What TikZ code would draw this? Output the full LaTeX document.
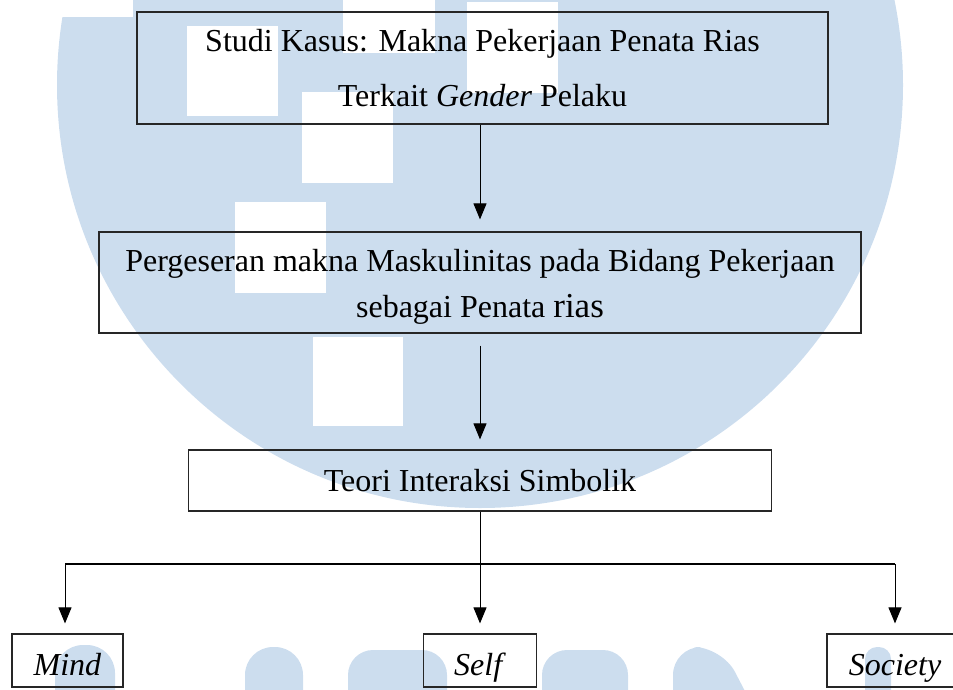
\documentclass[tikz,border=0pt]{standalone}
\usepackage{fontspec}
\setmainfont{Liberation Serif}
\usetikzlibrary{arrows.meta}
\definecolor{wmblue}{RGB}{204,221,238}
\begin{document}
\begin{tikzpicture}[x=1pt,y=1pt,
  box/.style={draw=black!85, line width=1.2pt, inner sep=0pt, align=center, font=\fontsize{32}{40}\selectfont},
  leaf/.style={box, minimum height=53pt, text height=29pt, text depth=0pt},
  conn/.style={line width=1pt, draw=black},
  arr/.style={conn, -{Triangle[width=13pt,length=16pt]}},
  wm/.style={fill=wmblue},
  wmhole/.style={fill=white}]
\useasboundingbox (0,0) rectangle (953,-689);
\clip (0,0) rectangle (953,-689);
% watermark
\fill[wm] (480,-85) circle (423);
\fill[wmhole] (55,0) rectangle (133,-17);
\fill[wmhole] (187,-26) rectangle (278,-116);
\fill[wmhole] (302,-92) rectangle (393,-183);
\fill[wmhole] (343,0) rectangle (435,-53);
\fill[wmhole] (467,-2) rectangle (558,-93);
\fill[wmhole] (235,-202) rectangle (326,-293);
\fill[wmhole] (313,-337) rectangle (403,-426);
\fill[wm, rounded corners=28pt] (55,-720) -- (55,-645) -- (115,-645) -- (115,-720) -- cycle;
\fill[wm, rounded corners=28pt] (245,-720) -- (245,-647) -- (303,-647) -- (303,-720) -- cycle;
\fill[wm, rounded corners=25pt] (348,-720) -- (348,-650) -- (447,-650) -- (447,-720) -- cycle;
\fill[wm, rounded corners=25pt] (542,-720) -- (542,-650) -- (628,-650) -- (628,-720) -- cycle;
\fill[wm, rounded corners=28pt] (673,-720) -- (673,-647) -- (722,-647) -- (760,-720) -- cycle;
\fill[wm, rounded corners=12pt] (865,-720) -- (865,-647) -- (891,-647) -- (891,-720) -- cycle;
% boxes
\node[box, minimum width=691pt, minimum height=112pt, font=\fontsize{32}{55}\selectfont] (b1) at (482.5,-68)
  {Studi Kasus: Makna Pekerjaan Penata Rias\\Terkait \textit{Gender} Pelaku};
\node[box, minimum width=762pt, minimum height=101pt, font=\fontsize{32}{46}\selectfont] (b2) at (480,-282.5)
  {\rule{0pt}{31pt}Pergeseran makna Maskulinitas pada Bidang Pekerjaan\\sebagai Penata {\fontsize{35}{46}\selectfont rias}};
\node[box, minimum width=583pt, minimum height=61pt] (b3) at (480,-480.5) {Teori Interaksi Simbolik};
\node[leaf, minimum width=111pt] (mind) at (67.5,-660.5) {\textit{Mind}};
\node[leaf, minimum width=113pt] (self) at (480,-660.5) {\textit{Self}};
\node[leaf, minimum width=136pt] (soc) at (895,-660.5) {\textit{Society}};
% connectors
\draw[arr, shorten >=12pt] (b1.south -| b2.north) -- (b2.north);
\draw[arr, shorten <=12pt, shorten >=10pt] (b2.south) -- (b3.north);
\draw[arr, shorten >=10pt] (b3.south) -- (self.north);
\coordinate (hl) at (65,-564);
\coordinate (hr) at (895,-564);
\draw[conn, line width=1.4pt] (hl) -- (hr);
\draw[arr, shorten >=10pt] (hl) -- (hl |- mind.north);
\draw[arr, shorten >=10pt] (hr) -- (hr |- soc.north);
\end{tikzpicture}
\end{document}
